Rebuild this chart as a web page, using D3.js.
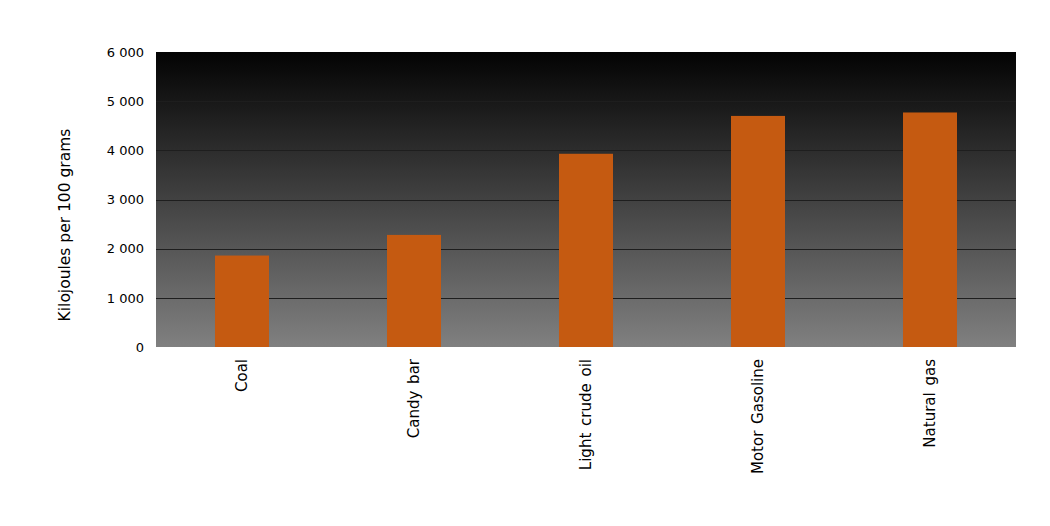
<!DOCTYPE html>
<html>
<head>
<meta charset="utf-8">
<script src="https://cdn.jsdelivr.net/npm/d3@7"></script>
<style>
  html, body { margin: 0; padding: 0; background: #fff; }
  svg { display: block; font-family: "DejaVu Sans", sans-serif; }
</style>
</head>
<body>
<svg id="chart" width="1050" height="526"></svg>
<script>
const categories = ["Coal", "Candy bar", "Light crude oil", "Motor Gasoline", "Natural gas"];
const values = [1860, 2280, 3930, 4700, 4770];
const yTicks = [0, 1000, 2000, 3000, 4000, 5000, 6000];
const yTitle = "Kilojoules per 100 grams";

const svg = d3.select("#chart");
const mLeft = 156, mRight = 1016, mTop = 52, mBottom = 347;

const x = d3.scaleBand().domain(categories).range([mLeft, mRight])
  .paddingInner(0.686).paddingOuter(0.343);
const y = d3.scaleLinear().domain([0, 6000]).range([mBottom, mTop]);

const defs = svg.append("defs");
const grad = defs.append("linearGradient").attr("id", "bg")
  .attr("x1", 0).attr("y1", 0).attr("x2", 0).attr("y2", 1);
grad.append("stop").attr("offset", "0%").attr("stop-color", "#030303");
grad.append("stop").attr("offset", "100%").attr("stop-color", "#808080");

svg.append("rect")
  .attr("x", mLeft).attr("y", mTop)
  .attr("width", mRight - mLeft).attr("height", mBottom - mTop)
  .attr("fill", "url(#bg)");

// gridlines
svg.append("g").selectAll("line")
  .data(yTicks.filter(d => d > 0 && d < 6000))
  .join("line")
  .attr("x1", mLeft).attr("x2", mRight)
  .attr("y1", d => Math.round(y(d)) + 0.5).attr("y2", d => Math.round(y(d)) + 0.5)
  .attr("stroke", "#1e1e1e").attr("stroke-width", 1);

// bars
svg.append("g").selectAll("rect")
  .data(categories.map((c, i) => ({ c, v: values[i] })))
  .join("rect")
  .attr("x", d => x(d.c))
  .attr("width", x.bandwidth())
  .attr("y", d => y(d.v))
  .attr("height", d => y(0) - y(d.v))
  .attr("fill", "#C55A11");

// y axis labels
const yAxis = d3.axisLeft(y).tickValues(yTicks).tickSize(0).tickPadding(12)
  .tickFormat(d => d3.format(",")(d).replace(",", " "));
const yg = svg.append("g").attr("transform", `translate(${mLeft},0)`).call(yAxis);
yg.select(".domain").remove();
yg.selectAll("text").attr("font-size", 13).attr("fill", "#000")
  .attr("font-family", "DejaVu Sans, sans-serif");

// x axis labels (rotated)
const xAxis = d3.axisBottom(x).tickSize(0).tickPadding(0);
const xg = svg.append("g").attr("transform", `translate(0,${mBottom})`).call(xAxis);
xg.select(".domain").remove();
xg.selectAll("text")
  .attr("font-size", 15).attr("fill", "#000")
  .attr("font-family", "DejaVu Sans, sans-serif")
  .attr("transform", "rotate(-90)")
  .attr("text-anchor", "end")
  .attr("x", -12).attr("y", 0).attr("dy", "0.35em")
  .style("word-spacing", "2px");

// y title
svg.append("text")
  .attr("transform", "translate(70,225) rotate(-90)")
  .attr("text-anchor", "middle")
  .attr("font-size", 15.5)
  .attr("fill", "#000")
  .text(yTitle);
</script>
</body>
</html>
